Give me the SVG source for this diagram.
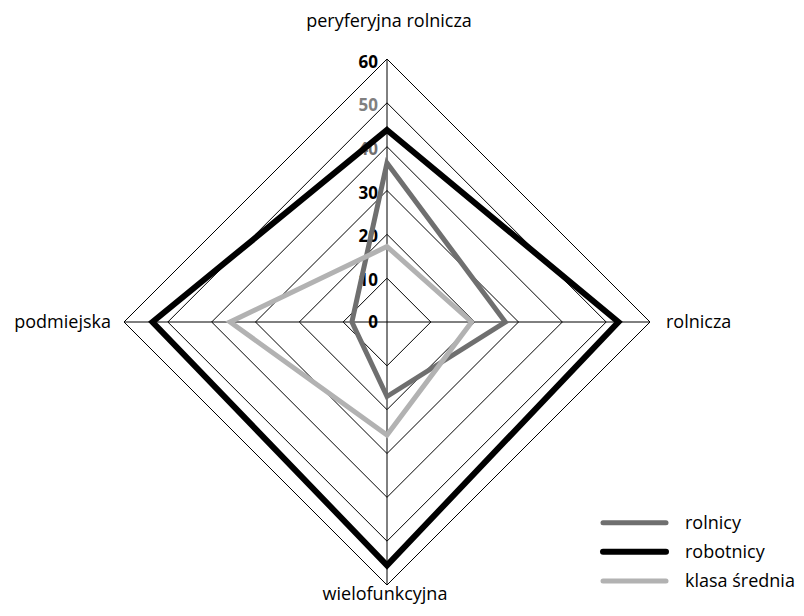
<svg xmlns="http://www.w3.org/2000/svg" width="804" height="616" viewBox="0 0 804 616">
<style>
.grid{fill:none;stroke:#000;stroke-width:1}
.ser{fill:none;stroke-linejoin:miter;stroke-miterlimit:10}
.rol{stroke:#6f6f6f;stroke-width:5}
.rob{stroke:#000;stroke-width:6}
.kla{stroke:#b2b2b2;stroke-width:5}
.lab{font-family:"Open Sans","Liberation Sans",sans-serif;font-size:18px;fill:#000}
.tick{font-family:"Open Sans","Liberation Sans",sans-serif;font-size:17px;font-weight:bold;fill:#000;text-anchor:end}
.leg{stroke-linecap:round}
</style>
<rect width="804" height="616" fill="#fff"/>
<g id="grid">
<polygon class="grid" points="387,278.17 430.83,322 387,365.83 343.17,322"/>
<polygon class="grid" points="387,234.33 474.67,322 387,409.67 299.33,322"/>
<polygon class="grid" points="387,190.5 518.5,322 387,453.5 255.5,322"/>
<polygon class="grid" points="387,146.67 562.33,322 387,497.33 211.67,322"/>
<polygon class="grid" points="387,102.83 606.17,322 387,541.17 167.83,322"/>
<polygon class="grid" points="387,59 650,322 387,585 124,322"/>
<line class="grid" x1="387" y1="59" x2="387" y2="585"/>
<line class="grid" x1="124" y1="322" x2="650" y2="322"/>
</g>
<g id="ticks">
<text class="tick" x="378" y="328">0</text>
<text class="tick" x="378" y="286">10</text>
<text class="tick" x="378" y="242">20</text>
<text class="tick" x="378" y="199">30</text>
<text class="tick" x="378" y="155" style="fill:#707070">40</text>
<text class="tick" x="378" y="111" style="fill:#808080">50</text>
<text class="tick" x="378" y="68">60</text>
</g>
<g id="axis-labels">
<text id="peryferyjna" class="lab" x="389" y="27" text-anchor="middle">peryferyjna rolnicza</text>
<text id="rolnicza" class="lab" x="666" y="328">rolnicza</text>
<text id="podmiejska" class="lab" x="111" y="328" text-anchor="end">podmiejska</text>
<text id="wielofunkcyjna" class="lab" x="385" y="600" text-anchor="middle">wielofunkcyjna</text>
</g>
<g id="series">
<polygon id="s-rolnicy" class="ser rol" points="387,162.9 505.3,322 387,396.5 351.9,322"/>
<polygon id="s-robotnicy" class="ser rob" points="387,130 618.4,322 387,565.3 152.5,322"/>
<polygon id="s-klasa" class="ser kla" points="387,246.6 471.6,322 387,435.1 230.1,322"/>
</g>
<g id="legend">
<line class="leg rol" x1="603" y1="522.7" x2="666" y2="522.7"/>
<text class="lab" x="685" y="528.5">rolnicy</text>
<line class="leg rob" x1="603" y1="551.7" x2="666" y2="551.7"/>
<text class="lab" x="685" y="557.5">robotnicy</text>
<line class="leg kla" x1="603" y1="581" x2="666" y2="581"/>
<text class="lab" x="685" y="587">klasa średnia</text>
</g>
</svg>
